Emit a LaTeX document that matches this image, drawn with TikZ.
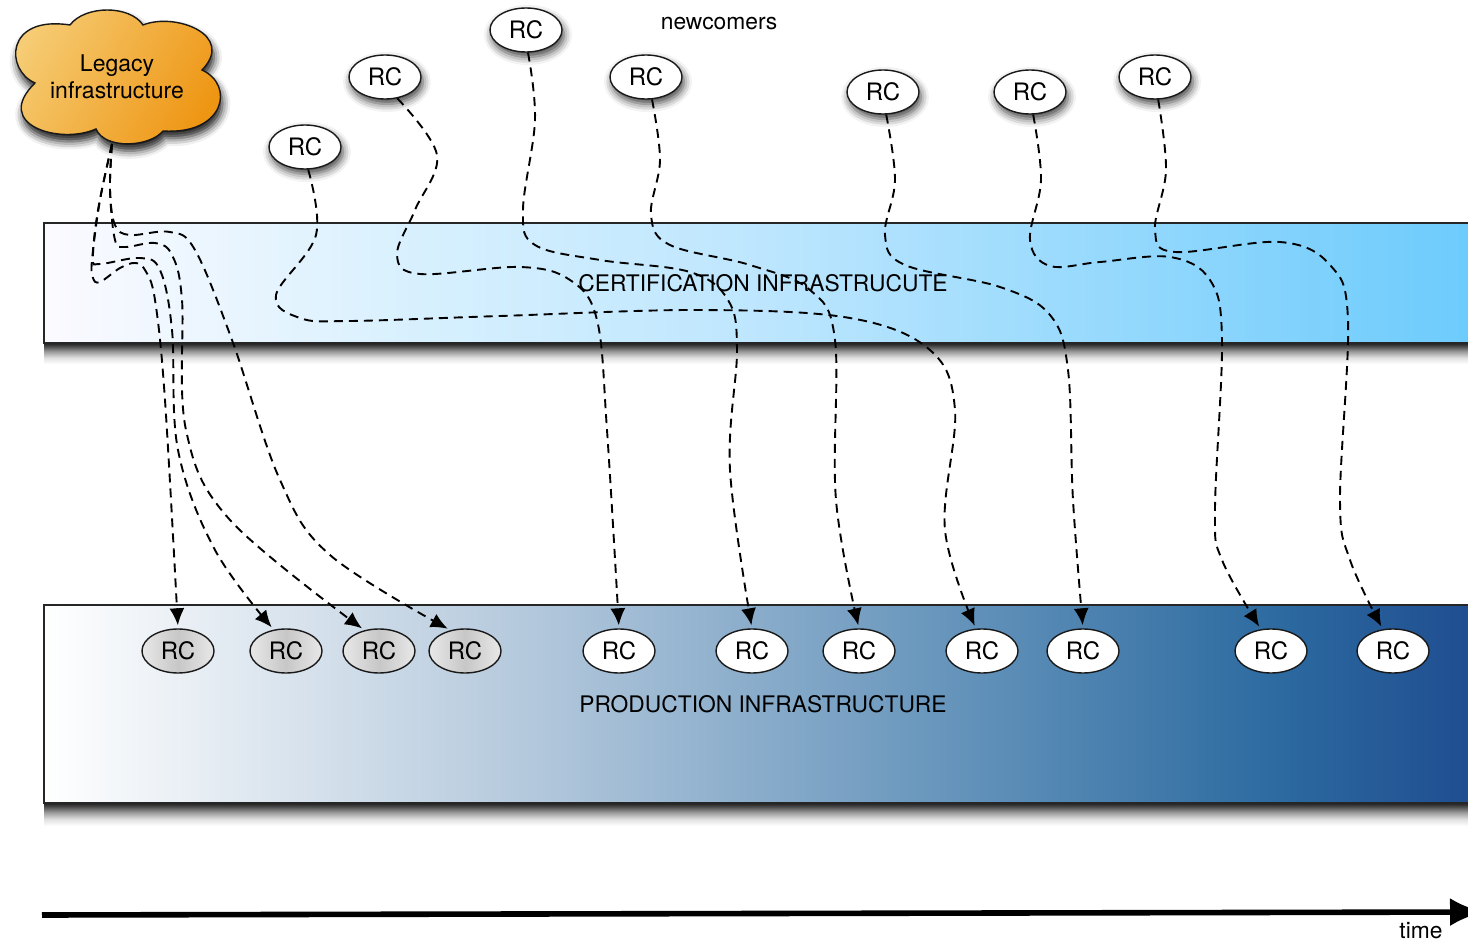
\documentclass[tikz,border=0pt]{standalone}
\usepackage{fontspec}
\setmainfont{TeX Gyre Heros}
\usetikzlibrary{arrows.meta,shapes.geometric,shadows.blur}
\definecolor{certleft}{HTML}{FBFAFF}
\definecolor{certlow}{HTML}{DAF1FE}
\definecolor{certmid}{HTML}{BDE6FE}
\definecolor{certright}{HTML}{6CCBFC}
\definecolor{prodA}{HTML}{FFFFFF}
\definecolor{prodB}{HTML}{B3C8DC}
\definecolor{prodC}{HTML}{5E8FB8}
\definecolor{prodD}{HTML}{2C6AA0}
\definecolor{prodE}{HTML}{1F4C90}
\definecolor{cloudleft}{HTML}{F6CE78}
\definecolor{cloudright}{HTML}{EE9410}
\pgfdeclarehorizontalshading{prodgrad}{100bp}{
color(0bp)=(prodA);
color(25bp)=(prodA);
color(42bp)=(prodB);
color(58bp)=(prodC);
color(68bp)=(prodD);
color(75bp)=(prodE);
color(100bp)=(prodE)}
\pgfdeclarehorizontalshading{certgrad}{100bp}{
color(0bp)=(certleft);
color(25bp)=(certleft);
color(37bp)=(certlow);
color(50bp)=(certmid);
color(75bp)=(certright);
color(100bp)=(certright)}
\pgfdeclareverticalshading{bandshadow}{100bp}{
color(0bp)=(white);
color(25bp)=(white);
color(40bp)=(black!12);
color(55bp)=(black!40);
color(67bp)=(black!70);
color(75bp)=(black!88);
color(100bp)=(black!88)}
\begin{document}
\begin{tikzpicture}[x=0.5pt,y=-0.5pt,
rcnode/.style={ellipse, draw=black!90, line width=0.7pt, minimum width=36pt, minimum height=22pt, inner sep=0pt, font=\fontsize{12}{14}\selectfont},
newrc/.style={rcnode, fill=white, blur shadow={shadow xshift=1pt, shadow yshift=-2.5pt, shadow blur radius=4pt, shadow opacity=75}},
prodrc/.style={rcnode, fill=white},
oldrc/.style={rcnode, left color=black!9, right color=black!9, middle color=black!22},
band/.style={draw=black!85, line width=0.8pt},
bandlabel/.style={font=\fontsize{11.4}{14}\selectfont, inner sep=0pt},
flow/.style={dashed, dash pattern=on 4.5pt off 3pt, line width=0.95pt, shorten >=1.5pt, -{Latex[length=8.5pt,width=7.5pt,fill=black]}},
flowfree/.style={smooth, tension=0.6}]
\clip (0,0) rectangle (1468,941);
\shade[shading=bandshadow] (44,343) rectangle (1480,364);
\shade[shading=bandshadow] (44,803) rectangle (1480,826);
\shade[shading=certgrad] (44,223) rectangle (1480,343);
\shade[shading=prodgrad] (44,605) rectangle (1480,803);
\draw[band] (44,223) rectangle (1480,343);
\draw[band] (44,605) rectangle (1480,803);
\draw[line width=0.7pt, draw=black!90, left color=cloudleft, right color=cloudright, shading angle=60, blur shadow={shadow xshift=1pt, shadow yshift=-3.5pt, shadow blur radius=4pt, shadow opacity=90}] (70,25) .. controls (85,5) and (130,5) .. (143,25) .. controls (175,12) and (236,35) .. (202,70) .. controls (235,85) and (225,135) .. (163,131) .. controls (150,147) and (105,150) .. (96,129) .. controls (60,145) and (-8,125) .. (35,83) .. controls (5,70) and (5,15) .. (70,25) -- cycle;
\node[align=center, font=\fontsize{11.5}{13.5}\selectfont] (legacy) at (117,77) {Legacy\\infrastructure};
\coordinate (legacyout) at (112,144);
\node[bandlabel] (newcomers) at (719,24) {newcomers};
\node[bandlabel] (cert) at (763,283) {CERTIFICATION INFRASTRUCUTE};
\node[bandlabel] (prod) at (763,704) {PRODUCTION INFRASTRUCTURE};
\node[newrc] (rc1) at (305,147) {RC};
\node[newrc] (rc2) at (385,77) {RC};
\node[newrc] (rc3) at (526,30) {RC};
\node[newrc] (rc4) at (646,77) {RC};
\node[newrc] (rc5) at (883,92) {RC};
\node[newrc] (rc6) at (1030,92) {RC};
\node[newrc] (rc7) at (1155,77) {RC};
\node[oldrc] (old1) at (178,651) {RC};
\node[oldrc] (old2) at (286,651) {RC};
\node[oldrc] (old3) at (379,651) {RC};
\node[oldrc] (old4) at (465,651) {RC};
\node[prodrc] (prod1) at (619,651) {RC};
\node[prodrc] (prod2) at (752,651) {RC};
\node[prodrc] (prod3) at (859,651) {RC};
\node[prodrc] (prod4) at (982,651) {RC};
\node[prodrc] (prod5) at (1083,651) {RC};
\node[prodrc] (prod6) at (1271,651) {RC};
\node[prodrc] (prod7) at (1393,651) {RC};
\draw[flow] plot[flowfree] coordinates {(legacyout) (100,200) (92,260) (93,278) (100,282) (120,268) (135,263) (145,270) (155,300) (165,400) (old1.north)};
\draw[flow] plot[flowfree] coordinates {(legacyout) (98,210) (93,258) (100,264) (140,258) (160,270) (172,330) (178,450) (215,550) (old2.120)};
\draw[flow] plot[flowfree] coordinates {(legacyout) (110,190) (115,240) (125,247) (155,243) (172,255) (182,300) (186,430) (230,520) (old3.125)};
\draw[flow] plot[flowfree] coordinates {(legacyout) (110,190) (115,225) (130,235) (170,232) (195,250) (232,340) (280,480) (330,555) (old4.125)};
\draw[flow] plot[flowfree] coordinates {(rc1.-82) (316,235) (276,295) (300,318) (350,321) (500,316) (700,310) (850,318) (930,350) (955,410) (945,530) (prod4.105)};
\draw[flow] plot[flowfree] coordinates {(rc2.-60) (437,155) (415,210) (397,255) (420,274) (520,267) (570,280) (597,320) (607,430) (prod1.north)};
\draw[flow] plot[flowfree] coordinates {(rc3.-85) (535,120) (523,210) (535,245) (600,260) (690,272) (728,300) (737,350) (730,470) (prod2.north)};
\draw[flow] plot[flowfree] coordinates {(rc4.-75) (660,160) (651,215) (670,245) (750,265) (810,290) (835,340) (836,500) (prod3.north)};
\draw[flow] plot[flowfree] coordinates {(rc5.-82) (895,180) (885,235) (905,265) (1000,287) (1050,315) (1068,370) (1073,500) (prod5.north)};
\draw[flow] plot[flowfree] coordinates {(rc6.-82) (1041,180) (1030,240) (1050,266) (1100,262) (1170,257) (1210,280) (1222,340) (1215,510) (1222,560) (prod6.115)};
\draw[flow] plot[flowfree] coordinates {(rc7.-82) (1166,170) (1155,230) (1175,252) (1280,242) (1330,265) (1348,320) (1340,500) (1350,560) (prod7.115)};
\coordinate (timestart) at (42,915);
\coordinate (timeend) at (1484,912);
\draw[line width=2.8pt, -{Latex[length=17pt,width=14pt,fill=black]}] (timestart) -- (timeend);
\node[bandlabel] (time) at (1421,931) {time};
\end{tikzpicture}
\end{document}
